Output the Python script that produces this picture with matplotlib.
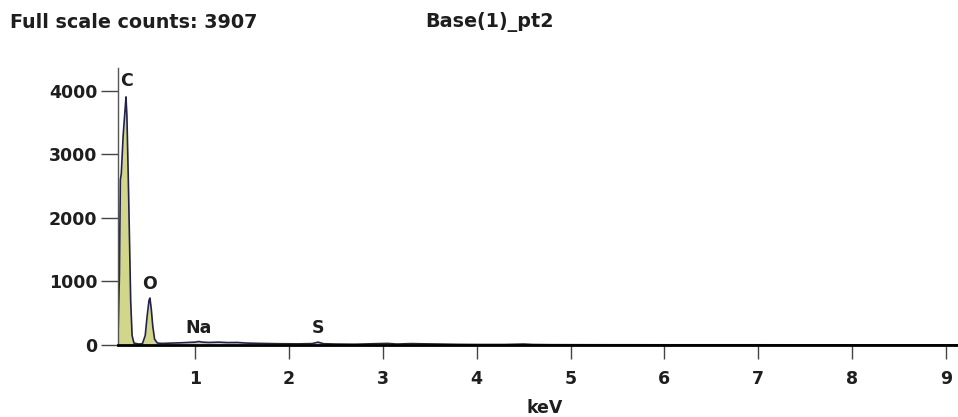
import numpy as np
import matplotlib
matplotlib.use("Agg")
from matplotlib import pyplot as plt

# Espectro EDS (keV, cuentas)
energy_kev = [0.18, 0.195, 0.205, 0.215, 0.235, 0.255, 0.265, 0.275, 0.29, 0.30, 0.315, 0.33,
              0.35, 0.40, 0.44, 0.47, 0.49, 0.51, 0.52, 0.535, 0.55, 0.57, 0.60, 0.65,
              0.75, 0.85, 0.92, 1.00, 1.04, 1.08, 1.15, 1.25, 1.35, 1.45, 1.55, 1.70,
              1.90, 2.10, 2.25, 2.31, 2.37, 2.50, 2.70, 2.90, 3.05, 3.15, 3.30, 3.45,
              3.60, 3.80, 4.00, 4.30, 4.50, 4.60, 4.80, 5.20, 6.00, 7.00, 8.00, 9.13]
counts = [120, 1100, 2600, 2700, 3300, 3700, 3907, 3600, 2600, 1850, 700, 150,
          30, 15, 20, 150, 450, 700, 740, 560, 300, 90, 30, 25,
          30, 35, 40, 45, 55, 45, 40, 45, 38, 40, 30, 25,
          20, 18, 22, 45, 20, 15, 12, 20, 25, 15, 22, 18,
          15, 10, 8, 8, 15, 8, 5, 4, 3, 3, 2, 2]

peak_labels = ["C", "O", "Na", "S"]
peak_pos = [0.27, 0.52, 1.04, 2.31]
peak_hgt = [4020, 820, 130, 130]

y_ticks = [0, 1000, 2000, 3000, 4000]
x_ticks = [1, 2, 3, 4, 5, 6, 7, 8, 9]

FS = 12.5
font = {"family": "DejaVu Sans", "weight": "bold"}
TXT = "#1e1e1e"

fig = plt.figure(figsize=(9.58, 4.17), dpi=100)
ax = fig.add_axes([118 / 958, 1 - 345 / 417, 1 - 118 / 958, (345 - 68) / 417])

ax.fill_between(energy_kev, counts, 0, color="#d2d68a", lw=0)
ax.plot(energy_kev, counts, color="#23234a", lw=1.2)

ax.set_xlim(0.18, 9.127)
ax.set_ylim(0, 4362)

for lab, xp, yp in zip(peak_labels, peak_pos, peak_hgt):
    ax.text(xp, yp, lab, ha="center", va="bottom", fontsize=FS, color=TXT, **font)

ax.spines["top"].set_visible(False)
ax.spines["right"].set_visible(False)
ax.spines["left"].set_color("#555555")
ax.spines["left"].set_linewidth(1.0)
ax.spines["bottom"].set_color("black")
ax.spines["bottom"].set_linewidth(2.0)

ax.set_yticks(y_ticks)
ax.set_xticks(x_ticks)
ax.tick_params(axis="y", direction="out", length=12, width=1, color="#444444", pad=3)
ax.tick_params(axis="x", direction="out", length=10, width=1, color="#444444", pad=8)
for t in ax.get_xticklabels() + ax.get_yticklabels():
    t.set_fontfamily("DejaVu Sans")
    t.set_fontweight("bold")
    t.set_fontsize(FS)
    t.set_color(TXT)

ax.set_xlabel("keV", fontsize=FS, color=TXT, **font)
ax.xaxis.set_label_coords(0.508, -0.195)

fig.text(10 / 958, 1 - 22 / 417, "Full scale counts: 3907", ha="left", va="center",
         fontsize=13.8, color=TXT, **font)
fig.text(425 / 958, 1 - 22 / 417, "Base(1)_pt2", ha="left", va="center",
         fontsize=13.8, color=TXT, **font)

fig.savefig("out.png", dpi=100)
